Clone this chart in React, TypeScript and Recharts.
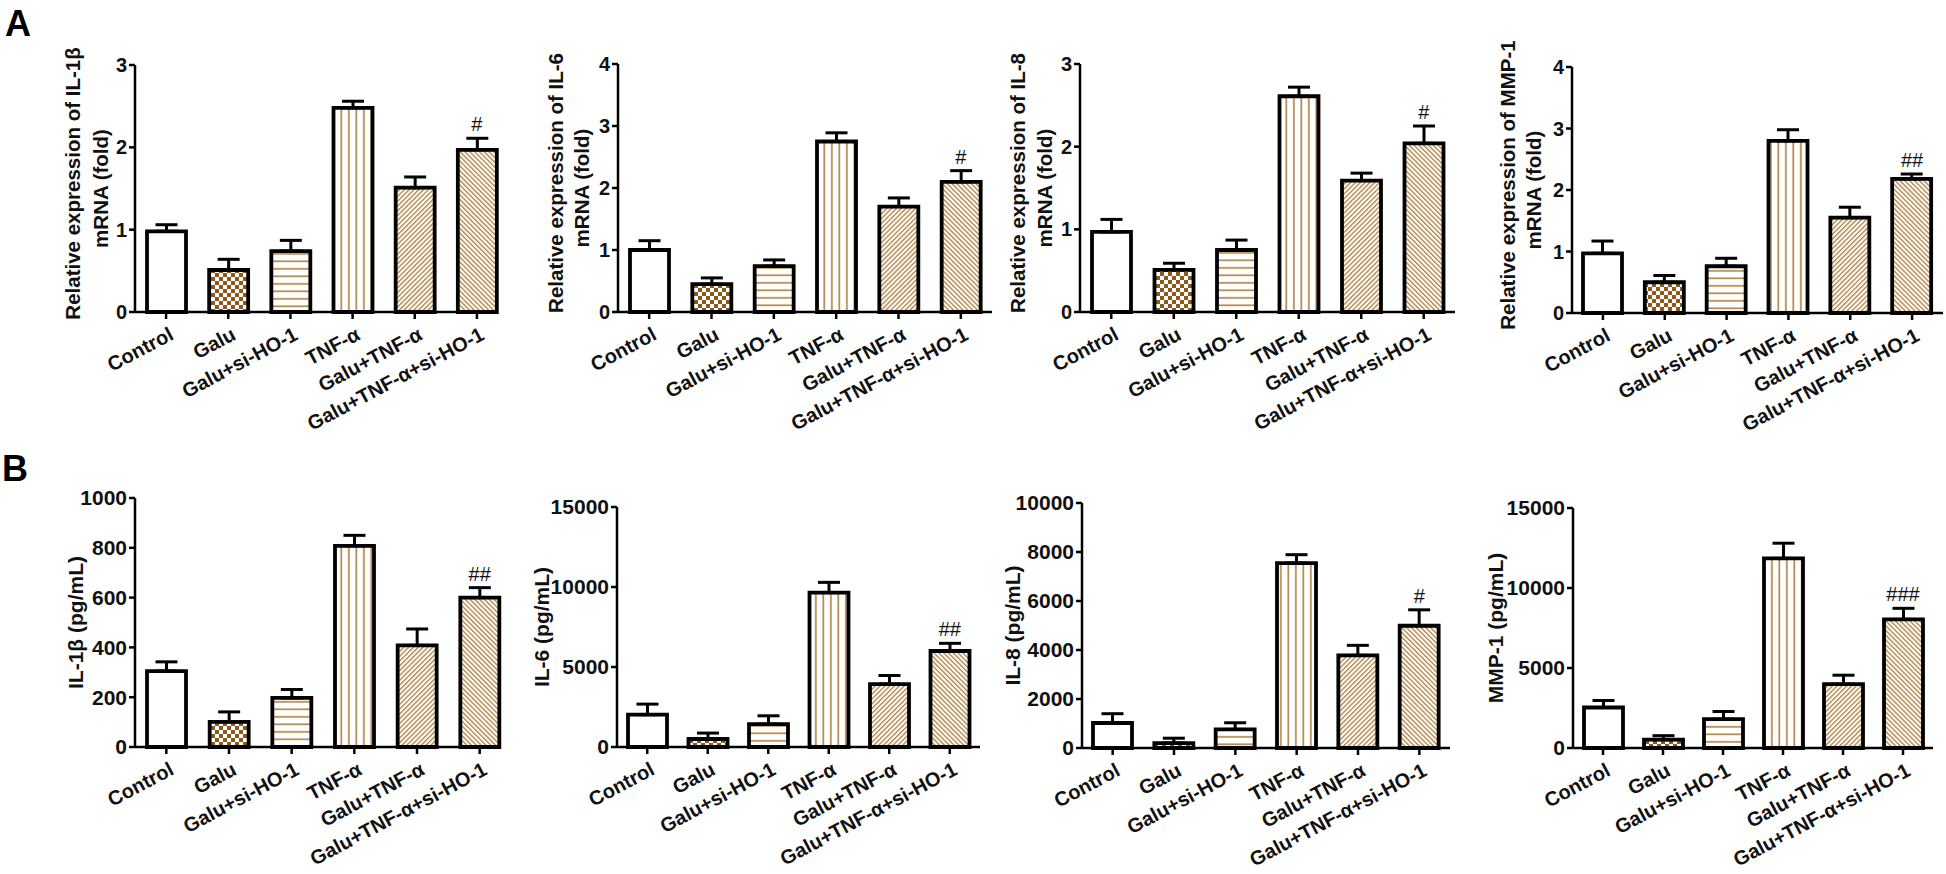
import React from "react";
import { ComposedChart, Bar, Cell, ErrorBar, Scatter, XAxis, YAxis, Label } from "recharts";

const groups = ["Control", "Galu", "Galu+si-HO-1", "TNF-α", "Galu+TNF-α", "Galu+TNF-α+si-HO-1"];

// A: relative mRNA expression (fold)
const il1bMrna = [0.98, 0.51, 0.74, 2.48, 1.51, 1.97];
const il1bMrnaErr = [0.08, 0.13, 0.13, 0.08, 0.13, 0.14];
const il6Mrna = [1.0, 0.45, 0.74, 2.75, 1.7, 2.1];
const il6MrnaErr = [0.15, 0.1, 0.1, 0.14, 0.14, 0.18];
const il8Mrna = [0.97, 0.51, 0.75, 2.61, 1.59, 2.04];
const il8MrnaErr = [0.15, 0.08, 0.12, 0.11, 0.09, 0.21];
const mmp1Mrna = [0.97, 0.5, 0.76, 2.8, 1.55, 2.18];
const mmp1MrnaErr = [0.2, 0.11, 0.13, 0.18, 0.17, 0.08];

// B: secreted protein (pg/mL)
const il1bProt = [305, 101, 197, 808, 408, 600];
const il1bProtErr = [37, 40, 34, 42, 66, 40];
const il6Prot = [2020, 500, 1430, 9650, 3930, 6000];
const il6ProtErr = [660, 370, 520, 640, 540, 480];
const il8Prot = [1020, 200, 760, 7550, 3780, 4990];
const il8ProtErr = [380, 200, 270, 340, 410, 650];
const mmp1Prot = [2530, 520, 1800, 11850, 3990, 8040];
const mmp1ProtErr = [440, 250, 480, 950, 560, 690];

const sigOne = ["", "", "", "", "", "#"];
const sigTwo = ["", "", "", "", "", "##"];
const sigThree = ["", "", "", "", "", "###"];

const ticksFold3 = [0, 1, 2, 3];
const ticksFold4 = [0, 1, 2, 3, 4];
const ticksIl1b = [0, 200, 400, 600, 800, 1000];
const ticks15k = [0, 5000, 10000, 15000];
const ticks10k = [0, 2000, 4000, 6000, 8000, 10000];

const FONT = '"Liberation Sans", Arial, Helvetica, sans-serif';
const fills = ["#ffffff", "url(#checker)", "url(#hlines)", "url(#vlines)", "url(#diagUp)", "url(#diagDown)"];
const TAN = "#b5874c";
const BROWN = "#8e5a1c";

const panels = [
  { means: il1bMrna, errs: il1bMrnaErr, sig: sigOne, ticks: ticksFold3, title: ["Relative expression of IL-1β", "mRNA (fold)"], off: [63, 35], x0: 135, x1: 498, top: 65, bot: 312, padR: -10, tickFont: 20 },
  { means: il6Mrna, errs: il6MrnaErr, sig: sigOne, ticks: ticksFold4, title: ["Relative expression of IL-6", "mRNA (fold)"], off: [63, 37], x0: 618, x1: 992, top: 64, bot: 312, padR: 0, tickFont: 20 },
  { means: il8Mrna, errs: il8MrnaErr, sig: sigOne, ticks: ticksFold3, title: ["Relative expression of IL-8", "mRNA (fold)"], off: [63, 36], x0: 1080, x1: 1455, top: 64, bot: 312, padR: 0, tickFont: 20 },
  { means: mmp1Mrna, errs: mmp1MrnaErr, sig: sigTwo, ticks: ticksFold4, title: ["Relative expression of MMP-1", "mRNA (fold)"], off: [65, 39], x0: 1572, x1: 1943, top: 67, bot: 313, padR: 0, tickFont: 20 },
  { means: il1bProt, errs: il1bProtErr, sig: sigTwo, ticks: ticksIl1b, title: ["IL-1β (pg/mL)"], off: [60], x0: 135, x1: 500, top: 498, bot: 747, padR: -11, tickFont: 21 },
  { means: il6Prot, errs: il6ProtErr, sig: sigTwo, ticks: ticks15k, title: ["IL-6 (pg/mL)"], off: [76], x0: 617, x1: 980, top: 507, bot: 747, padR: 0, tickFont: 21 },
  { means: il8Prot, errs: il8ProtErr, sig: sigOne, ticks: ticks10k, title: ["IL-8 (pg/mL)"], off: [70], x0: 1082, x1: 1450, top: 503, bot: 748, padR: 0, tickFont: 21 },
  { means: mmp1Prot, errs: mmp1ProtErr, sig: sigThree, ticks: ticks15k, title: ["MMP-1 (pg/mL)"], off: [78], x0: 1573, x1: 1933, top: 508, bot: 748, padR: 0, tickFont: 21 },
];

const XTick = (props: any) => {
  const { x, y, payload } = props;
  const ax = x + 2;
  const ay = y + 5;
  return (
    <text x={ax} y={ay} dy="0.72em" textAnchor="end" transform={`rotate(-28 ${ax} ${ay})`}
      fontSize={20} fontWeight="bold" fontFamily={FONT} fill="#111">
      {payload.value}
    </text>
  );
};

const makeTitle = (lines: string[], off: number[]) => (props: any) => {
  const vb = props.viewBox;
  const ax = vb.x + vb.width;
  const cy = vb.y + vb.height / 2;
  return (
    <g>
      {lines.map((t, i) => {
        const cx = ax - off[i];
        const cyy = lines.length > 1 && i === 0 ? cy - 5 : cy;
        return (
          <text key={i} x={cx} y={cyy} transform={`rotate(-90 ${cx} ${cyy})`} textAnchor="middle"
            dominantBaseline="central" fontSize={lines.length > 1 ? 20.5 : 21} fontWeight="bold"
            fontFamily={FONT} fill="#111">
            {t}
          </text>
        );
      })}
    </g>
  );
};

const SigMark = (props: any) => {
  const { cx, cy, payload } = props;
  if (!payload || !payload.sig) return <g />;
  return (
    <text x={cx} y={cy - 7} textAnchor="middle" fontSize={20} fontFamily={FONT} fill="#111">
      {payload.sig}
    </text>
  );
};

function Panel({ p }: { p: any }) {
  const ml = 120, mt = 40, mr = 15, mb = 130, axW = 50, axH = 30;
  const width = p.x1 - p.x0 + ml + mr;
  const height = p.bot - p.top + mt + mb + axH;
  const data = groups.map((g, i) => ({
    name: g,
    value: p.means[i],
    err: [0, p.errs[i]],
    sigTop: p.sig[i] ? p.means[i] + p.errs[i] : null,
    sig: p.sig[i],
  }));
  const max = p.ticks[p.ticks.length - 1];
  return (
    <div style={{ position: "absolute", left: p.x0 - ml, top: p.top - mt }}>
      <ComposedChart width={width} height={height} data={data}
        margin={{ top: mt, right: mr, bottom: mb, left: ml - axW }}>
        <XAxis dataKey="name" type="category" height={axH} interval={0}
          padding={{ left: 0, right: p.padR }}
          axisLine={{ stroke: "#000", strokeWidth: 2.5 }}
          tickLine={{ stroke: "#000", strokeWidth: 2.5 }} tickSize={7}
          tick={<XTick />} />
        <YAxis width={axW} domain={[0, max]} ticks={p.ticks} interval={0}
          axisLine={{ stroke: "#000", strokeWidth: 2.5 }}
          tickLine={{ stroke: "#000", strokeWidth: 2.5 }} tickSize={6}
          tick={{ fontSize: p.tickFont, fontWeight: 700, fill: "#111", fontFamily: FONT }}>
          <Label content={makeTitle(p.title, p.off)} />
        </YAxis>
        <Bar dataKey="value" barSize={39} stroke="#000" strokeWidth={3.8} isAnimationActive={false}>
          {data.map((d, i) => (
            <Cell key={d.name} fill={fills[i]} />
          ))}
          <ErrorBar dataKey="err" direction="y" width={11} stroke="#000" strokeWidth={3} />
        </Bar>
        <Scatter dataKey="sigTop" shape={<SigMark />} isAnimationActive={false} />
      </ComposedChart>
    </div>
  );
}

export default function App() {
  return (
    <div style={{ position: "absolute", left: 0, top: 0, width: 1946, height: 874, background: "#fff", overflow: "hidden" }}>
      <svg width={0} height={0} style={{ position: "absolute" }}>
        <defs>
          <pattern id="checker" width="8" height="8" patternUnits="userSpaceOnUse">
            <rect width="8" height="8" fill="#fff" />
            <rect width="4" height="4" fill={BROWN} />
            <rect x="4" y="4" width="4" height="4" fill={BROWN} />
          </pattern>
          <pattern id="hlines" width="8" height="7.5" patternUnits="userSpaceOnUse">
            <rect width="8" height="7.5" fill="#fff" />
            <rect y="3" width="8" height="1.7" fill={TAN} />
          </pattern>
          <pattern id="vlines" width="7.5" height="8" patternUnits="userSpaceOnUse">
            <rect width="7.5" height="8" fill="#fff" />
            <rect x="3" width="1.7" height="8" fill={TAN} />
          </pattern>
          <pattern id="diagUp" width="3.4" height="8" patternUnits="userSpaceOnUse" patternTransform="rotate(45)">
            <rect width="3.4" height="8" fill="#fff" />
            <rect width="1.4" height="8" fill={TAN} />
          </pattern>
          <pattern id="diagDown" width="3.4" height="8" patternUnits="userSpaceOnUse" patternTransform="rotate(-45)">
            <rect width="3.4" height="8" fill="#fff" />
            <rect width="1.4" height="8" fill={TAN} />
          </pattern>
        </defs>
      </svg>
      <div style={{ position: "absolute", left: 5, top: 4, fontFamily: FONT, fontWeight: 700, fontSize: 36, lineHeight: "40px", color: "#000" }}>A</div>
      <div style={{ position: "absolute", left: 2, top: 449, fontFamily: FONT, fontWeight: 700, fontSize: 36, lineHeight: "40px", color: "#000" }}>B</div>
      {panels.map((p, i) => (
        <Panel key={i} p={p} />
      ))}
    </div>
  );
}
